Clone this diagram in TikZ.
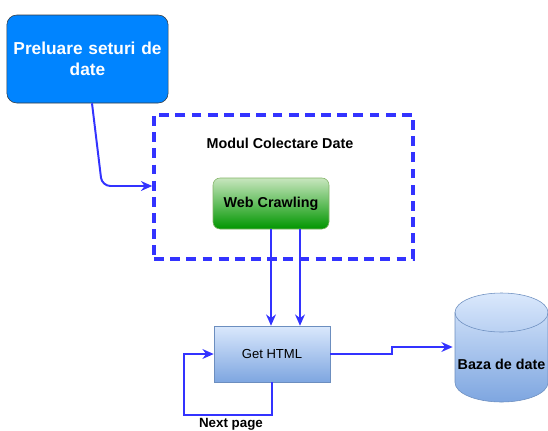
\documentclass[tikz,border=0pt]{standalone}
\usepackage{fontspec}
\setmainfont{Liberation Sans}
\usetikzlibrary{arrows.meta}
\definecolor{flowblue}{RGB}{51,51,255}
\definecolor{startblue}{RGB}{0,132,255}
\definecolor{darkborder}{RGB}{54,57,61}
\definecolor{crawlborder}{RGB}{130,179,102}
\definecolor{crawltop}{RGB}{200,230,190}
\definecolor{crawlbot}{RGB}{0,150,0}
\definecolor{htmltop}{RGB}{218,232,252}
\definecolor{htmlbot}{RGB}{126,166,224}
\definecolor{htmlborder}{RGB}{108,142,191}

\begin{document}
\begin{tikzpicture}[x=0.025cm,y=-0.025cm,
  flow/.style={draw=flowblue,line width=1.4pt,-{Stealth[length=8pt,width=7pt]}},
  bigbox/.style={rectangle,rounded corners=7pt,draw=darkborder,fill=startblue,text=white,
    font=\bfseries\fontsize{12.3}{15}\selectfont,align=center,text width=108pt,
    minimum width=155*0.025cm,minimum height=88*0.025cm},
  crawlbox/.style={rectangle,rounded corners=5pt,draw=crawlborder,top color=crawltop,bottom color=crawlbot,
    font=\bfseries\fontsize{10.2}{12}\selectfont,minimum width=116*0.025cm,minimum height=51*0.025cm},
  htmlbox/.style={rectangle,draw=htmlborder,top color=htmltop,bottom color=htmlbot,
    font=\fontsize{9.3}{11}\selectfont,minimum width=116*0.025cm,minimum height=56*0.025cm}]
\useasboundingbox (0,0) rectangle (548,430);

\node[bigbox] (pre) at (87.5,59) {Preluare seturi de\\date};

% modul colectare date
\node[draw=flowblue,line width=2.5pt,dash pattern=on 7pt off 4.5pt,
  minimum width=259*0.025cm,minimum height=144*0.025cm] (modul) at (283.5,187) {};
\node[font=\bfseries\fontsize{10.2}{12}\selectfont] (modlabel) at (280,143) {Modul Colectare Date};
\node[crawlbox] (web) at (271,203.5) {Web Crawling};

\node[htmlbox] (html) at (272,354) {Get HTML};

% baza de date
\shade[draw=htmlborder,top color=htmltop,bottom color=htmlbot]
  (455,312.5) -- (455,382.5) arc (180:360:1.1625cm and 0.4875cm)
  -- (548,312.5) arc (0:180:1.1625cm and 0.4875cm) -- cycle;
\draw[htmlborder] (455,312.5) arc (180:360:1.1625cm and 0.4875cm);
\node[font=\bfseries\fontsize{10.2}{12}\selectfont,minimum width=93*0.025cm,minimum height=70*0.025cm] (db) at (501.5,364) {Baza de date};

\coordinate (bend) at (102,186);
\draw[flow,rounded corners=6pt] (pre.south -| 92,0) -- (bend) -- (modul.west |- bend);

\draw[flow] (web.south -| 271,0) -- (html.north -| 271,0);
\draw[flow] (web.south -| 300,0) -- (html.north -| 300,0);

\coordinate (loopa) at (272,415);
\coordinate (loopb) at (184,415);
\draw[flow] (html.south -| loopa) -- (loopa) -- (loopb) -- (loopb |- html.west) -- (html.west);
\node[font=\bfseries\fontsize{9.5}{11}\selectfont] (next) at (231,424) {Next page};

\coordinate (stepx) at (392,347);
\draw[flow] (html.east) -- (html.east -| stepx) -- (stepx) -- (db.west |- stepx);
\end{tikzpicture}
\end{document}
